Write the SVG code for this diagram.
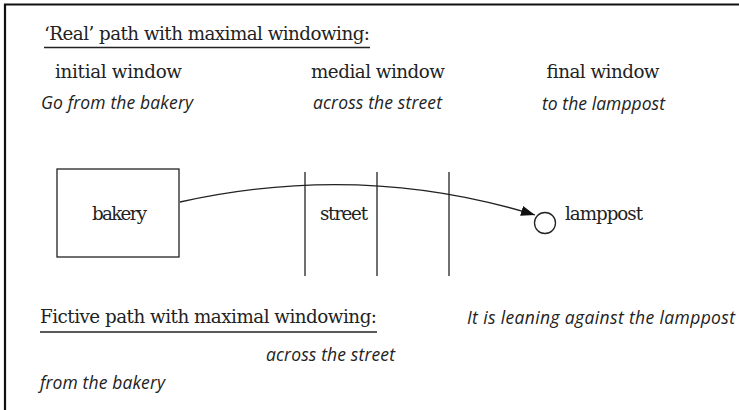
<svg xmlns="http://www.w3.org/2000/svg" width="739" height="410" viewBox="0 0 739 410">
<style>
.s{font-family:"DejaVu Serif","Liberation Serif",serif;font-size:18.3px;fill:#222}
.i{font-family:"Open Sans","Noto Sans","Liberation Sans",sans-serif;font-style:italic;font-size:17.5px;fill:#222}
.ln{stroke:#222;stroke-width:1.3;fill:none}
</style>
<defs>
<marker id="ah" markerUnits="userSpaceOnUse" markerWidth="16" markerHeight="12" refX="14" refY="5" orient="auto" viewBox="0 0 16 10">
<path d="M0,0 L14,5 L0,10 Z" fill="#111"/>
</marker>
</defs>
<rect width="739" height="410" fill="#fff"/>
<path d="M5,410 V4.5 H739" stroke="#111" stroke-width="2.2" fill="none"/>
<g id="titles">
<text class="s" x="44" y="40" textLength="326">‘Real’ path with maximal windowing:</text>
<line x1="44" y1="47.5" x2="370" y2="47.5" class="ln"/>
<text class="s" x="40" y="323" textLength="337">Fictive path with maximal windowing:</text>
<line x1="40" y1="332" x2="377" y2="332" class="ln"/>
</g>
<g id="windows">
<text class="s" x="55" y="78" textLength="127">initial window</text>
<text class="s" x="311" y="78" textLength="134">medial window</text>
<text class="s" x="546" y="78" textLength="113">final window</text>
<text class="i" x="41" y="109" textLength="152">Go from the bakery</text>
<text class="i" x="313" y="109" textLength="129">across the street</text>
<text class="i" x="542" y="110" textLength="123">to the lamppost</text>
</g>
<g id="bakery">
<rect x="57" y="169" width="122" height="88" class="ln"/>
<text class="s" x="92" y="220" textLength="55">bakery</text>
</g>
<g id="street">
<line x1="305" y1="172" x2="305" y2="276" class="ln"/>
<line x1="377" y1="172" x2="377" y2="276" class="ln"/>
<line x1="449" y1="172" x2="449" y2="276" class="ln"/>
<text class="s" x="320" y="220" textLength="48">street</text>
</g>
<g id="lamppost">
<circle cx="545" cy="223" r="10.5" class="ln"/>
<text class="s" x="565" y="220" textLength="78">lamppost</text>
</g>
<g id="connectors">
<path d="M180,202 Q362,161.5 535,215" class="ln" marker-end="url(#ah)"/>
</g>
<g id="fictive">
<text class="i" x="467" y="324" textLength="268">It is leaning against the lamppost</text>
<text class="i" x="266" y="361" textLength="129">across the street</text>
<text class="i" x="40" y="389" textLength="125">from the bakery</text>
</g>
</svg>
